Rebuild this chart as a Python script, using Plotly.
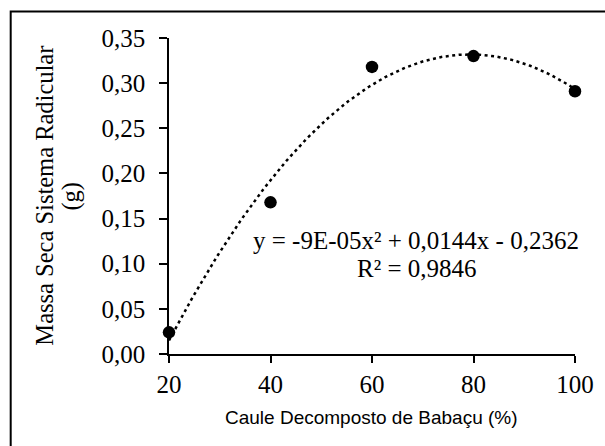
import numpy as np
import plotly.graph_objects as go

# Data
x_vals = [20, 40, 60, 80, 100]
y_vals = [0.024, 0.168, 0.318, 0.330, 0.291]
x_ticks = [20, 40, 60, 80, 100]
y_ticks = [0.00, 0.05, 0.10, 0.15, 0.20, 0.25, 0.30, 0.35]
equation = "y = -9E-05x² + 0,0144x - 0,2362"
r2_text = "R² = 0,9846"
x_title = "Caule Decomposto de Babaçu (%)"
y_title_1 = "Massa Seca Sistema Radicular"
y_title_2 = "(g)"

# Polynomial trendline (order 2) fitted to the data
coef = np.polyfit(x_vals, y_vals, 2)
xs = np.linspace(min(x_vals), max(x_vals), 200)
ys = np.polyval(coef, xs)

W, H = 605, 446
L, R, T, B = 168.5, 30, 38, 92
pw, ph = W - L - R, H - T - B

serif = "Liberation Serif"
sans = "Liberation Sans"

fig = go.Figure()
fig.add_trace(go.Scatter(x=xs, y=ys, mode="lines",
                         line=dict(color="black", width=2.5, dash="3px,3.5px"),
                         hoverinfo="skip", showlegend=False, cliponaxis=False))
fig.add_trace(go.Scatter(x=x_vals, y=y_vals, mode="markers",
                         marker=dict(color="black", size=12.5),
                         showlegend=False, cliponaxis=False))

tickfont = dict(family=serif, size=25, color="black")
fig.update_layout(
    width=W, height=H,
    margin=dict(l=L, r=R, t=T, b=B),
    paper_bgcolor="white", plot_bgcolor="white",
    font=dict(family=serif, size=25, color="black"),
    separators=", ",
    showlegend=False,
    xaxis=dict(range=[20, 100], tickmode="array", tickvals=x_ticks,
               ticktext=[str(v) for v in x_ticks],
               showgrid=False, zeroline=False, showline=True, linecolor="black",
               linewidth=1.5, ticks="outside", ticklen=7, tickwidth=1.5,
               tickcolor="black", tickfont=tickfont),
    yaxis=dict(range=[0, 0.35], tickmode="array", tickvals=y_ticks,
               ticktext=[f"{v:.2f}".replace(".", ",") for v in y_ticks],
               showgrid=False, zeroline=False, showline=True, linecolor="black",
               linewidth=1.5, ticks="outside", ticklen=8, tickwidth=1.5,
               tickcolor="black", tickfont=tickfont, ticklabelstandoff=9),
)

def px_x(p):
    return (p - L) / pw

def px_y(p):
    return 1 - (p - T) / ph

annotations = [
    dict(text=equation, x=px_x(416), y=px_y(240), font=dict(family=serif, size=25)),
    dict(text=r2_text, x=px_x(417), y=px_y(268), font=dict(family=serif, size=25)),
    dict(text=x_title, x=px_x(371), y=px_y(417), font=dict(family=sans, size=19)),
    dict(text=y_title_1, x=px_x(43), y=px_y(196), textangle=-90, font=dict(family=serif, size=24.5)),
    dict(text=y_title_2, x=px_x(70), y=px_y(196), textangle=-90, font=dict(family=serif, size=24.5)),
]
for a in annotations:
    a.update(xref="paper", yref="paper", showarrow=False, xanchor="center", yanchor="middle")
    a["font"]["color"] = "black"
fig.update_layout(annotations=annotations)

fig.add_shape(type="rect", xref="paper", yref="paper",
              x0=px_x(10), x1=px_x(700), y0=px_y(600), y1=px_y(11.5),
              line=dict(color="black", width=2))

fig.write_html("out.html")
